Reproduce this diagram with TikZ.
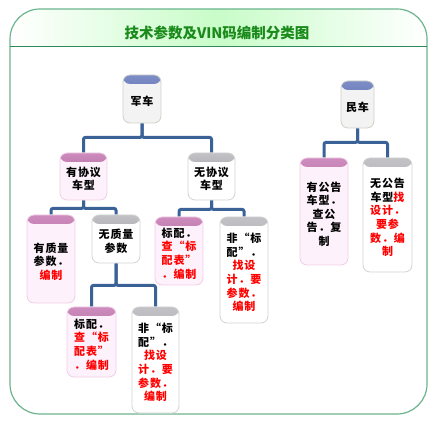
\documentclass[tikz,border=0pt]{standalone}
\usepackage{fontspec}
\newfontfamily\cjk{Noto Sans CJK SC}[LetterSpace=8,RawFeature=+fwid]
\newfontfamily\cjktitle{Noto Sans CJK SC}
\usetikzlibrary{backgrounds}
\definecolor{framegreen}{HTML}{6BB48E}
\definecolor{sepgreen}{HTML}{2E8B57}
\definecolor{bandgreen}{HTML}{C8FCC8}
\definecolor{titletext}{HTML}{1A8A1A}
\definecolor{connblue}{HTML}{3A6296}
\definecolor{blueT}{HTML}{7D8DC8}
\definecolor{blueB}{HTML}{4A5C9C}
\definecolor{pinkT}{HTML}{CC8CBC}
\definecolor{pinkB}{HTML}{A04888}
\definecolor{greyT}{HTML}{C2C2C6}
\definecolor{greyB}{HTML}{86868E}
\definecolor{pinkfill}{HTML}{FDF2FB}
\definecolor{pinkborder}{HTML}{F0CCE6}
\definecolor{greyborder}{HTML}{D2D2D2}
\definecolor{junfill}{HTML}{F3F3F3}
\definecolor{junborder}{HTML}{CFCFC6}
\definecolor{redtext}{HTML}{FF0000}
\newcommand\bt[1]{\raisebox{-4pt}[\height][\depth]{\begin{tabular}{@{}c@{}}#1\end{tabular}}}
\newcommand\rd[1]{\textcolor{redtext}{#1}}
\begin{document}
\begin{tikzpicture}[x=1pt,y=-1pt,
  box/.style={draw, rounded corners=7pt, inner sep=0pt, line width=0.8pt,
    font=\cjk\bfseries\fontsize{11}{13.5}\selectfont},
  bluebox/.style={box, draw=junborder, fill=junfill,
    path picture={\shade[top color=blueT,bottom color=blueB] (path picture bounding box.north west) rectangle ([yshift=-9pt]path picture bounding box.north east);}},
  pinkbox/.style={box, draw=pinkborder, fill=pinkfill,
    path picture={\shade[top color=pinkT,bottom color=pinkB] (path picture bounding box.north west) rectangle ([yshift=-9pt]path picture bounding box.north east);}},
  greybox/.style={box, draw=greyborder, fill=white,
    path picture={\shade[top color=greyT,bottom color=greyB] (path picture bounding box.north west) rectangle ([yshift=-9pt]path picture bounding box.north east);}},
  conn/.style={draw=connblue, line width=3pt, rounded corners=2pt}]
\useasboundingbox (0,0) rectangle (439,430);

% nodes
\node[bluebox, minimum width=38pt, minimum height=48pt] (jun) at (142,99) {\bt{军车}};
\node[bluebox, minimum width=33pt, minimum height=47pt] (min) at (357.5,104.5) {\bt{民车}};
\node[pinkbox, minimum width=47pt, minimum height=47pt] (xy) at (83.5,176.5) {\bt{有协议\\车型}};
\node[greybox, minimum width=47pt, minimum height=47pt] (wxy) at (211.5,176.5) {\bt{无协议\\车型}};
\node[pinkbox, minimum width=48pt, minimum height=88pt] (zl) at (51,259) {\bt{有质量\\参数．\\\rd{编制}}};
\node[greybox, minimum width=48pt, minimum height=48pt] (wzl) at (116,239) {\bt{无质量\\参数}};
\node[pinkbox, minimum width=48pt, minimum height=68pt] (bp1) at (179,251) {\bt{标配．\\\rd{查“标}\\\rd{配表”}\\\rd{．编制}}};
\node[greybox, minimum width=48pt, minimum height=106pt] (fb1) at (244,270) {\bt{非“标\\配”．\\\rd{找设}\\\rd{计．要}\\\rd{参数．}\\\rd{编制}}};
\node[pinkbox, minimum width=49pt, minimum height=70pt] (bp2) at (91.5,342) {\bt{标配．\\\rd{查“标}\\\rd{配表”}\\\rd{．编制}}};
\node[greybox, minimum width=47pt, minimum height=106pt] (fb2) at (155.5,360) {\bt{非“标\\配”．\\\rd{找设}\\\rd{计．要}\\\rd{参数．}\\\rd{编制}}};
\node[pinkbox, minimum width=48pt, minimum height=107pt] (gg) at (324,211.5) {\bt{有公告\\车型．\\查公\\告．复\\制}};
\node[greybox, minimum width=49pt, minimum height=114pt] (wgg) at (387.5,215) {\bt{无公告\\车型\rd{找}\\\rd{设计．}\\\rd{要参}\\\rd{数．编}\\\rd{制}}};

\node[font=\cjktitle\bfseries\fontsize{14.5}{16}\selectfont, text=titletext, inner sep=0pt] (title) at (217,33) {技术参数及VIN码编制分类图};

\begin{scope}[on background layer]
  \begin{scope}
    \clip[rounded corners=30pt] (10,9) rectangle (427,414);
    \shade[left color=white, right color=white, middle color=bandgreen] (10,9) rectangle (427,47);
  \end{scope}
  \draw[framegreen, line width=1.2pt, rounded corners=30pt] (10,9) rectangle (427,414);
  \draw[sepgreen, line width=1pt] (10,47) -- (427,47);
  \draw[conn] (jun.south) -- ++(0,14) -| (xy.north);
  \draw[conn] (jun.south) -- ++(0,14) -| (wxy.north);
  \draw[conn] (xy.south) -- ++(0,8) -| (zl.north);
  \draw[conn] (xy.south) -- ++(0,8) -| (wzl.north);
  \draw[conn] (wxy.south) -- ++(0,9) -| (bp1.north);
  \draw[conn] (wxy.south) -- ++(0,9) -| (fb1.north);
  \draw[conn] (wzl.south) -- ++(0,22) -| (bp2.north);
  \draw[conn] (wzl.south) -- ++(0,22) -| (fb2.north);
  \draw[conn] (min.south) -- ++(0,14) -| (gg.north);
  \draw[conn] (min.south) -- ++(0,14) -| (wgg.north);
\end{scope}
\end{tikzpicture}
\end{document}
